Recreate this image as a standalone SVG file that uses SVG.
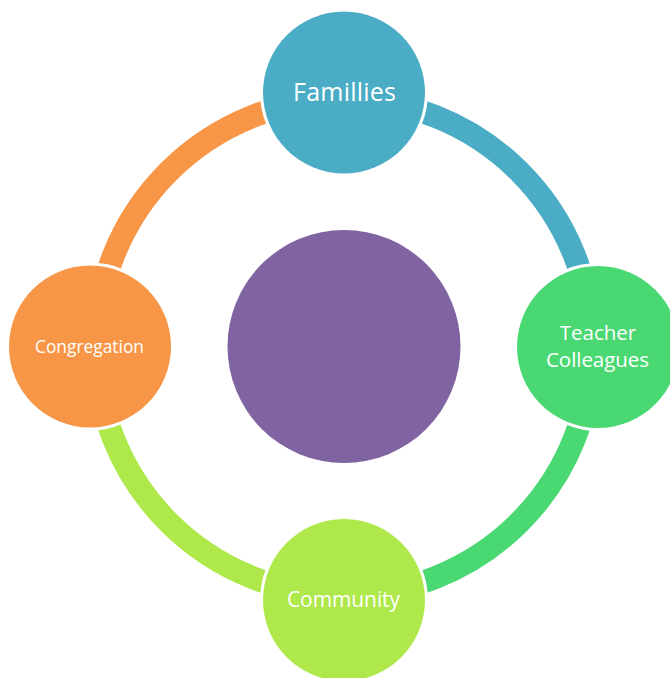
<svg xmlns="http://www.w3.org/2000/svg" width="670" height="678" viewBox="0 0 670 678">
<style>
.arc{fill:none;stroke-width:23}
.halo{fill:#ffffff}
.lbl{font-family:"Open Sans","Noto Sans","Liberation Sans",sans-serif;fill:#ffffff;text-anchor:middle}
</style>
<rect width="670" height="678" fill="#ffffff"/>
<g id="connectors">
<path class="arc" stroke="#4BACC6" d="M344,99 A248,248 0 0 1 592,347"/>
<path class="arc" stroke="#4AD873" d="M592,347 A248,248 0 0 1 344,595"/>
<path class="arc" stroke="#AEE84A" d="M344,595 A248,248 0 0 1 96,347"/>
<path class="arc" stroke="#F79646" d="M96,347 A248,248 0 0 1 344,99"/>
</g>
<g id="center">
<circle cx="344" cy="346.5" r="116.5" fill="#8064A2"/>
</g>
<g id="families">
<circle class="halo" cx="344" cy="92.5" r="84"/>
<circle cx="344" cy="92.5" r="81" fill="#4BACC6"/>
<text class="lbl" x="344.5" y="101" font-size="25" textLength="103">Famillies</text>
</g>
<g id="teacher-colleagues">
<circle class="halo" cx="598" cy="347" r="84"/>
<circle cx="598" cy="347" r="81" fill="#4AD873"/>
<text class="lbl" x="598" y="340" font-size="20.5">Teacher</text>
<text class="lbl" x="597.5" y="367" font-size="20.5" textLength="103">Colleagues</text>
</g>
<g id="community">
<circle class="halo" cx="344" cy="600" r="84"/>
<circle cx="344" cy="600" r="81" fill="#AEE84A"/>
<text class="lbl" x="343.5" y="607" font-size="21" textLength="113">Community</text>
</g>
<g id="congregation">
<circle class="halo" cx="90" cy="346.5" r="84"/>
<circle cx="90" cy="346.5" r="81" fill="#F79646"/>
<text class="lbl" x="89.5" y="353" font-size="17.5" textLength="109" lengthAdjust="spacingAndGlyphs">Congregation</text>
</g>
</svg>
